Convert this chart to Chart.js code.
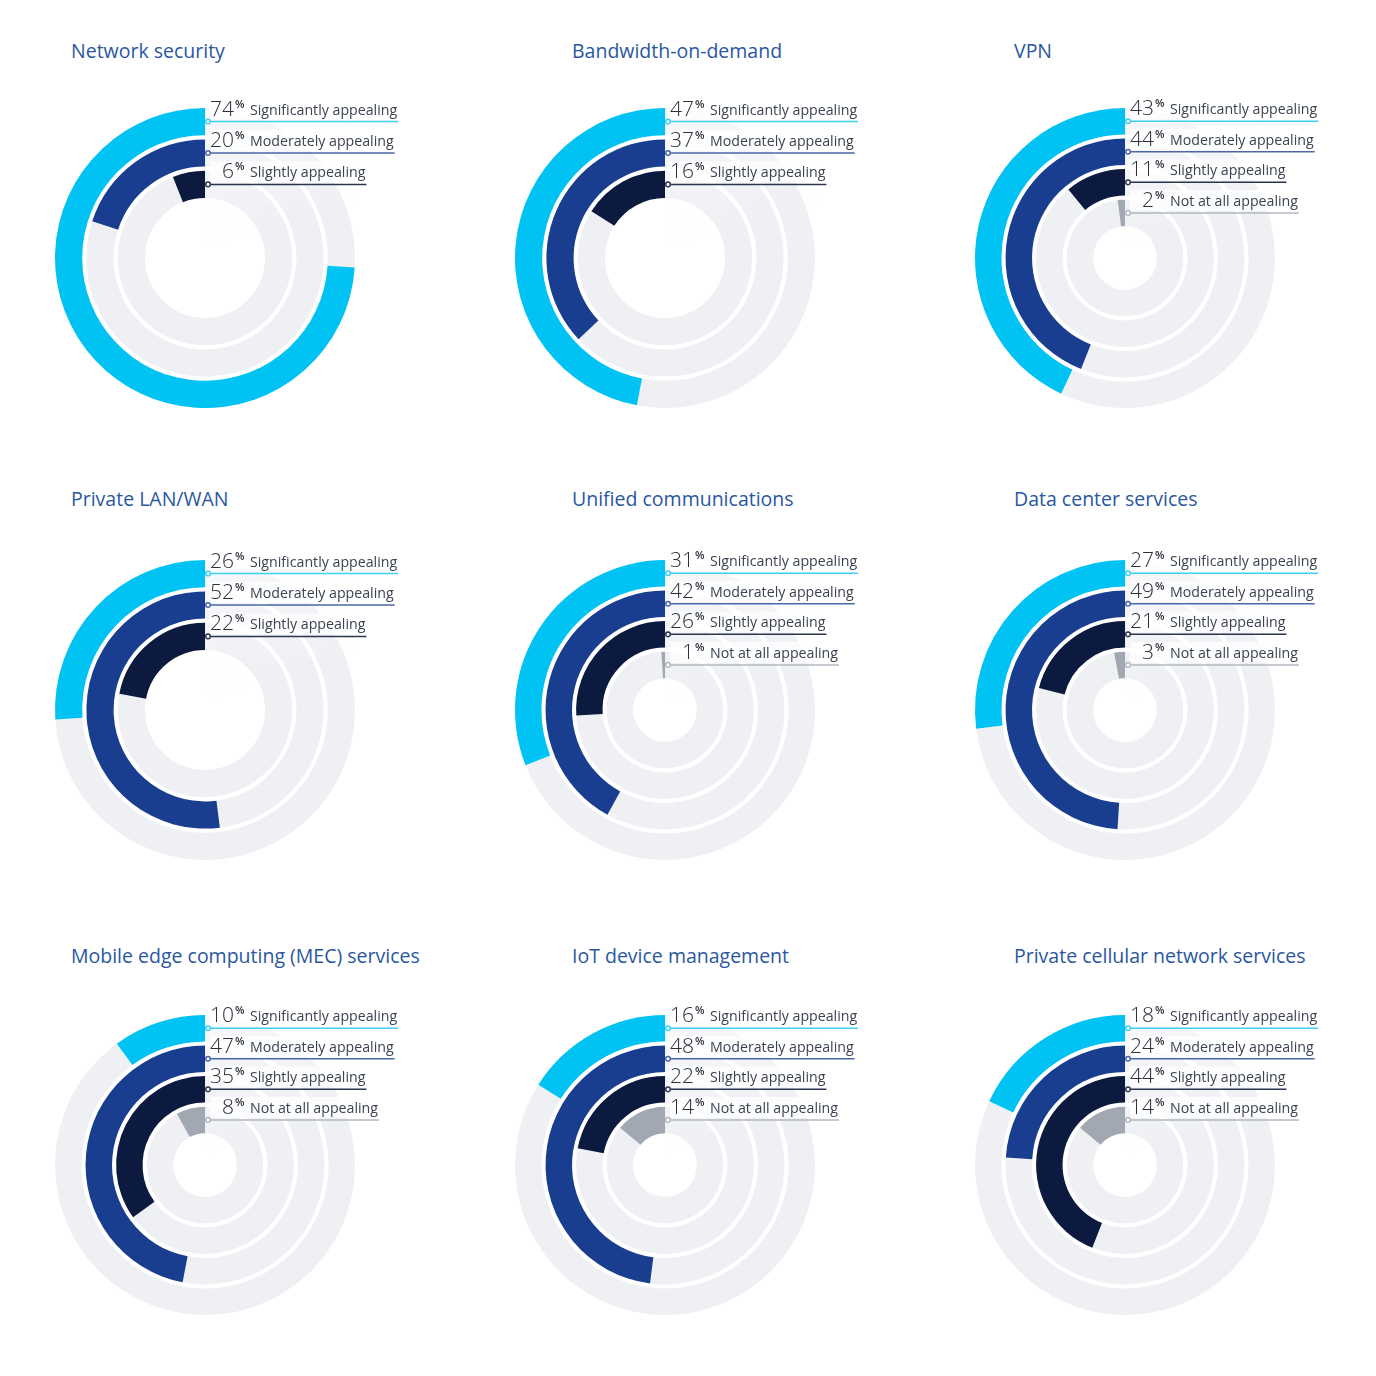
<!DOCTYPE html>
<html>
<head>
<meta charset="utf-8">
<script src="https://cdn.jsdelivr.net/npm/chart.js@4.4.1/dist/chart.umd.min.js"></script>
<style>
  body { margin: 0; background: #fff; width: 1376px; height: 1376px; position: relative; overflow: hidden; }
  .title { position: absolute; font-family: "Open Sans", sans-serif; font-size: 19.5px; color: #2a579f; white-space: nowrap; line-height: 24px; }
  canvas { position: absolute; }
</style>
</head>
<body>
<script>
const categories = ['Significantly appealing', 'Moderately appealing', 'Slightly appealing', 'Not at all appealing'];
const services = [
    'Network security', 'Bandwidth-on-demand', 'VPN',
    'Private LAN/WAN', 'Unified communications', 'Data center services',
    'Mobile edge computing (MEC) services', 'IoT device management', 'Private cellular network services'
];
const significantly = [74, 47, 43, 26, 31, 27, 10, 16, 18];
const moderately = [20, 37, 44, 52, 42, 49, 47, 48, 24];
const slightly = [6, 16, 11, 22, 26, 21, 35, 22, 44];
const notAtAll = [null, null, 2, null, 1, 3, 8, 14, 14];

const ringColors = ['#00c3f4', '#1a3e8f', '#0b1a3e', '#a2a8b2'];
const lineColors = ['#3fd0f6', '#4a67a8', '#2b3550', '#b3b8c0'];
const trackColor = '#eef0f4';

const colX = [205, 665, 1125];
const rowY = [258, 710, 1165];
const titleX = [71, 572, 1014];
const titleY = [39, 487, 944];

const RING = 26, GAP = 4, OUTER = 150;

// soft white fade over the track behind the labels
const fadePlugin = {
    id: 'labelFade',
    afterDatasetsDraw(chart) {
        const arc = chart.getDatasetMeta(0).data[1];
        const ctx = chart.ctx;
        const g = ctx.createLinearGradient(arc.x, arc.y - OUTER, arc.x + 40, arc.y - 20);
        g.addColorStop(0, 'rgba(255,255,255,0.55)');
        g.addColorStop(1, 'rgba(255,255,255,0)');
        ctx.save();
        ctx.fillStyle = g;
        ctx.fillRect(arc.x + 1, arc.y - OUTER - 2, OUTER + 4, OUTER - 10);
        ctx.restore();
    }
};

const labelPlugin = {
    id: 'ringLabels',
    afterDraw(chart) {
        const ctx = chart.ctx;
        chart.data.datasets.forEach((ds, di) => {
            if (ds.spacer) return;
            const arc = chart.getDatasetMeta(di).data[1];
            const cx = arc.x, cy = arc.y;
            const ly = cy - (arc.outerRadius + arc.innerRadius) / 2;
            const k = ds.cat;
            ctx.save();
            ctx.font = '14.2px "Open Sans"';
            const tw = ctx.measureText(categories[k]).width;
            // white band behind the text row
            ctx.fillStyle = 'rgba(255,255,255,0.75)';
            ctx.fillRect(cx + 5, ly - 23, tw + 42, 21);
            // line + marker
            ctx.strokeStyle = lineColors[k];
            ctx.lineWidth = 1.5;
            ctx.beginPath();
            ctx.moveTo(cx + 3, ly);
            ctx.lineTo(cx + 46 + tw, ly);
            ctx.stroke();
            ctx.fillStyle = '#fff';
            ctx.beginPath();
            ctx.arc(cx + 3, ly, 2.3, 0, Math.PI * 2);
            ctx.fill();
            ctx.stroke();
            // text
            ctx.fillStyle = '#3b4250';
            ctx.textBaseline = 'alphabetic';
            ctx.textAlign = 'left';
            ctx.fillText(categories[k], cx + 45, ly - 7);
            ctx.fillStyle = '#2b303a';
            ctx.font = '300 21px "Open Sans"';
            ctx.textAlign = 'right';
            ctx.fillText(String(ds.value), cx + 29, ly - 6);
            ctx.font = '600 11px "Open Sans"';
            ctx.textAlign = 'left';
            ctx.fillText('%', cx + 30, ly - 14);
            ctx.restore();
        });
    }
};

services.forEach((name, i) => {
    const col = i % 3, row = Math.floor(i / 3);
    const values = [significantly[i], moderately[i], slightly[i], notAtAll[i]];

    const title = document.createElement('div');
    title.className = 'title';
    title.style.left = titleX[col] + 'px';
    title.style.top = titleY[row] + 'px';
    title.textContent = name;
    document.body.appendChild(title);

    const canvas = document.createElement('canvas');
    canvas.width = 400;
    canvas.height = 320;
    canvas.style.left = (colX[col] - 160) + 'px';
    canvas.style.top = (rowY[row] - 160) + 'px';
    document.body.appendChild(canvas);

    const datasets = [];
    let n = 0;
    values.forEach((v, k) => {
        if (v === null) return;
        if (n > 0) {
            datasets.push({ data: [1], backgroundColor: ['rgba(0,0,0,0)'], borderWidth: 0, weight: GAP / RING, spacer: true });
        }
        datasets.push({
            data: [100 - v, v],
            backgroundColor: [trackColor, ringColors[k]],
            borderWidth: 0,
            weight: 1,
            value: v,
            cat: k
        });
        n++;
    });

    new Chart(canvas, {
        type: 'doughnut',
        data: { labels: ['rest', 'value'], datasets },
        options: {
            responsive: false,
            animation: false,
            events: [],
            radius: OUTER,
            cutout: OUTER - (n * RING + (n - 1) * GAP),
            layout: { padding: { left: 0, top: 0, bottom: 0, right: 80 } },
            plugins: { legend: { display: false }, tooltip: { enabled: false } }
        },
        plugins: [fadePlugin, labelPlugin]
    });
});
</script>
</body>
</html>
